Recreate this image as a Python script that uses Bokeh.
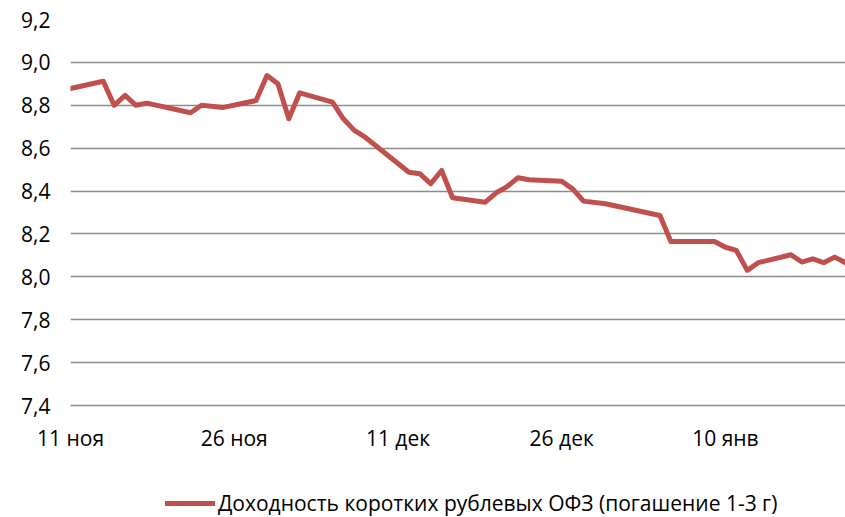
import pandas as pd
from bokeh.plotting import figure
from bokeh.layouts import column
from bokeh.models import (FixedTicker, CustomJSTickFormatter, Legend, LegendItem, Range1d)
from bokeh.embed import file_html
from bokeh.resources import INLINE

# ---- data ----
dates = ["2013-11-11", "2013-11-14", "2013-11-15", "2013-11-16", "2013-11-17", "2013-11-18",
         "2013-11-22", "2013-11-23", "2013-11-25", "2013-11-28", "2013-11-29", "2013-11-30",
         "2013-12-01", "2013-12-02", "2013-12-05", "2013-12-06", "2013-12-07", "2013-12-08",
         "2013-12-12", "2013-12-13", "2013-12-14", "2013-12-15", "2013-12-16", "2013-12-19",
         "2013-12-20", "2013-12-21", "2013-12-22", "2013-12-23", "2013-12-26", "2013-12-27",
         "2013-12-28", "2013-12-30", "2014-01-04", "2014-01-05", "2014-01-09", "2014-01-10",
         "2014-01-11", "2014-01-12", "2014-01-13", "2014-01-16", "2014-01-17", "2014-01-18",
         "2014-01-19", "2014-01-20", "2014-01-21"]
yields = [8.878, 8.912, 8.800, 8.846, 8.800, 8.810,
          8.765, 8.800, 8.790, 8.822, 8.939, 8.900,
          8.737, 8.858, 8.815, 8.737, 8.683, 8.651,
          8.488, 8.481, 8.434, 8.496, 8.369, 8.348,
          8.392, 8.421, 8.462, 8.453, 8.446, 8.410,
          8.353, 8.341, 8.286, 8.165, 8.165, 8.138,
          8.123, 8.030, 8.066, 8.103, 8.069, 8.084,
          8.066, 8.092, 8.066]
tick_dates = ["2013-11-11", "2013-11-26", "2013-12-11", "2013-12-26", "2014-01-10"]
tick_labels = ["11 ноя", "26 ноя", "11 дек", "26 дек", "10 янв"]
y_ticks = [7.4, 7.6, 7.8, 8.0, 8.2, 8.4, 8.6, 8.8, 9.0, 9.2]
series_name = "Доходность коротких рублевых ОФЗ (погашение 1-3 г)"

start = pd.Timestamp(dates[0])
x_days = [(pd.Timestamp(d) - start).days for d in dates]
tick_days = [(pd.Timestamp(d) - start).days for d in tick_dates]
end_days = (pd.Timestamp(dates[-1]) - start).days

FONT = "Open Sans"
FS = "21px"
RED = "#C0504D"
GRID = "#8C8C8C"
LINE_KW = dict(line_color=RED, line_width=5, line_join="round", line_cap="round")

# ---- main chart ----
p = figure(width=845, height=460, output_backend="svg", toolbar_location=None,
           min_border_left=70, min_border_right=0, min_border_top=19, min_border_bottom=55,
           x_range=Range1d(0, end_days), y_range=Range1d(7.4, 9.2))
p.outline_line_color = None

r = p.line(x_days, yields, **LINE_KW)

p.xaxis.ticker = FixedTicker(ticks=tick_days)
p.xaxis.major_label_overrides = {d: l for d, l in zip(tick_days, tick_labels)}
p.xaxis.axis_line_color = GRID
p.xaxis.axis_line_width = 1.5
p.xaxis.major_tick_line_color = None
p.xaxis.minor_tick_line_color = None
p.xaxis.major_tick_out = 0
p.xaxis.minor_tick_out = 0
p.xaxis.major_label_standoff = 18
p.xaxis.major_label_text_font = FONT
p.xaxis.major_label_text_font_size = FS
p.xaxis.major_label_text_color = "#000000"

p.yaxis.ticker = FixedTicker(ticks=y_ticks)
p.yaxis.formatter = CustomJSTickFormatter(code="return tick.toFixed(1).replace('.', ',');")
p.yaxis.axis_line_color = None
p.yaxis.major_tick_line_color = None
p.yaxis.minor_tick_line_color = None
p.yaxis.major_tick_out = 0
p.yaxis.minor_tick_out = 0
p.yaxis.major_label_standoff = 20
p.yaxis.major_label_text_font = FONT
p.yaxis.major_label_text_font_size = FS
p.yaxis.major_label_text_color = "#000000"

p.xgrid.grid_line_color = None
p.ygrid.ticker = FixedTicker(ticks=y_ticks)
p.ygrid.grid_line_color = GRID
p.ygrid.grid_line_width = 1.5

# ---- legend strip under the chart (series drawn out of view, only its legend shows) ----
lg = figure(width=845, height=57, output_backend="svg", toolbar_location=None,
            min_border=0, x_axis_location=None, y_axis_location=None,
            x_range=p.x_range, y_range=Range1d(0, 1))
lg.outline_line_color = None
lg.xgrid.visible = False
lg.ygrid.visible = False
lr = lg.line(x_days, yields, **LINE_KW)

legend = Legend(items=[LegendItem(label=series_name, renderers=[lr])],
                location=(95, 0), orientation="horizontal",
                padding=0, margin=0, spacing=0,
                glyph_width=50, glyph_height=20, label_standoff=3,
                border_line_color=None, background_fill_alpha=0,
                label_text_font=FONT, label_text_font_size=FS,
                label_text_color="#000000")
lg.add_layout(legend, "center")

layout = column(p, lg, spacing=0)
open("out.html", "w").write(file_html(layout, INLINE))
